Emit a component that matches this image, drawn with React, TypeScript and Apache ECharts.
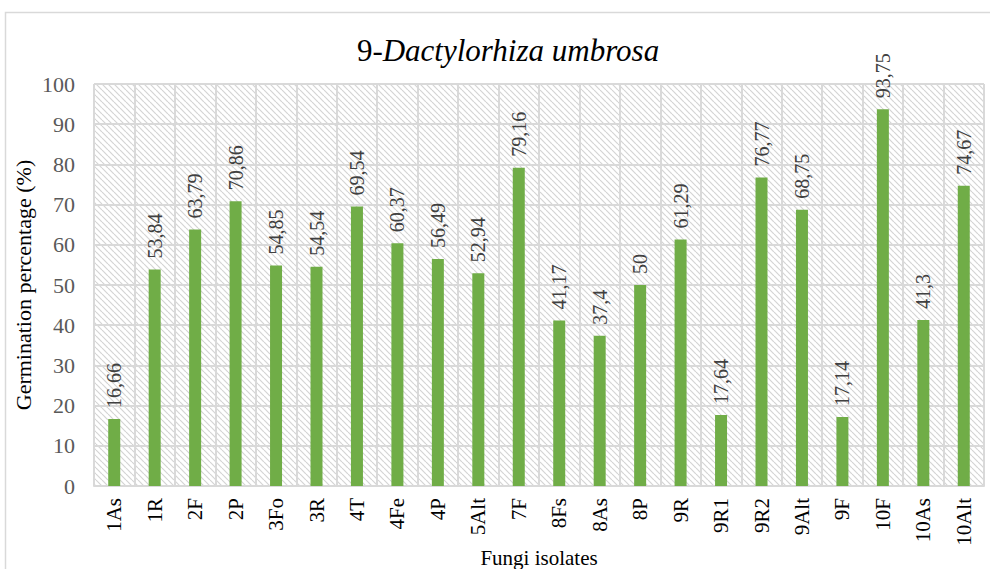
import React, { useEffect, useRef } from "react";
import * as echarts from "echarts";

const categories = ["1As","1R","2F","2P","3Fo","3R","4T","4Fe","4P","5Alt","7F","8Fs","8As","8P","9R","9R1","9R2","9Alt","9F","10F","10As","10Alt"];
const values = [16.66,53.84,63.79,70.86,54.85,54.54,69.54,60.37,56.49,52.94,79.16,41.17,37.4,50,61.29,17.64,76.77,68.75,17.14,93.75,41.3,74.67];
const yTicks = { min: 0, max: 100, interval: 10 };

function makeHatch(): HTMLCanvasElement {
  const c = document.createElement("canvas");
  const s = 6;
  c.width = s; c.height = s;
  const ctx = c.getContext("2d")!;
  ctx.fillStyle = "#ffffff";
  ctx.fillRect(0, 0, s, s);
  ctx.strokeStyle = "#d4d4d4";
  ctx.lineWidth = 1.2;
  for (let k = -1; k <= 1; k++) {
    ctx.beginPath();
    ctx.moveTo(k * s, 0);
    ctx.lineTo(k * s + s, s);
    ctx.stroke();
  }
  return c;
}

export default function App() {
  const ref = useRef<HTMLDivElement>(null);
  useEffect(() => {
    if (!ref.current) return;
    const chart = echarts.init(ref.current, null, { renderer: "svg" });
    const serif = "Liberation Serif";
    chart.setOption({
      animation: false,
      backgroundColor: "#ffffff",
      title: {
        text: "{n|9-}{i|Dactylorhiza umbrosa}",
        left: 503,
        textAlign: "center",
        top: 30,
        textStyle: {
          fontFamily: serif,
          fontSize: 31,
          fontWeight: "normal",
          color: "#000000",
          rich: {
            n: { fontFamily: serif, fontSize: 31, color: "#000000" },
            i: { fontFamily: serif, fontSize: 31, fontStyle: "italic", color: "#000000" },
          },
        },
      },
      graphic: [
        {
          type: "rect",
          shape: { x: 5.5, y: 12.5, width: 1000, height: 600 },
          style: { fill: "none", stroke: "#d9d9d9", lineWidth: 1.5 },
          silent: true,
        },
      ],
      grid: {
        left: 94,
        right: 6,
        top: 84,
        height: 402,
        outerBoundsMode: "none",
        containLabel: false,
        show: true,
        backgroundColor: { image: makeHatch(), repeat: "repeat" },
        borderWidth: 0,
      },
      xAxis: {
        type: "category",
        data: categories,
        name: "Fungi isolates",
        nameLocation: "middle",
        nameGap: 61,
        nameMoveOverlap: false,
        nameTextStyle: { fontFamily: serif, fontSize: 21, color: "#000000", verticalAlign: "top" },
        axisLine: { show: true, lineStyle: { color: "#d9d9d9", width: 2 } },
        axisTick: { show: false },
        splitLine: { show: true, lineStyle: { color: "#d9d9d9", width: 2 } },
        axisLabel: {
          rotate: 90,
          interval: 0,
          margin: 12,
          fontFamily: serif,
          fontSize: 21,
          color: "#000000",
        },
      },
      yAxis: {
        type: "value",
        min: yTicks.min,
        max: yTicks.max,
        interval: yTicks.interval,
        name: "Germination percentage (%)",
        nameLocation: "middle",
        nameGap: 60,
        nameMoveOverlap: false,
        nameTextStyle: { fontFamily: serif, fontSize: 22, color: "#000000" },
        axisLine: { show: false },
        axisTick: { show: false },
        splitLine: { show: true, lineStyle: { color: "#d9d9d9", width: 2 } },
        axisLabel: {
          margin: 19,
          fontFamily: serif,
          fontSize: 22,
          color: "#595959",
        },
      },
      series: [
        {
          type: "bar",
          data: values,
          barWidth: 12,
          itemStyle: { color: "#70AD47" },
          label: {
            show: true,
            position: "top",
            rotate: 90,
            align: "left",
            verticalAlign: "middle",
            distance: 11,
            fontFamily: serif,
            fontSize: 20,
            color: "#404040",
            formatter: (p: any) => String(p.value).replace(".", ","),
          },
        },
      ],
    });
    return () => chart.dispose();
  }, []);
  return (
    <div
      ref={ref}
      style={{ position: "fixed", left: 0, top: 0, width: 990, height: 569 }}
    />
  );
}
